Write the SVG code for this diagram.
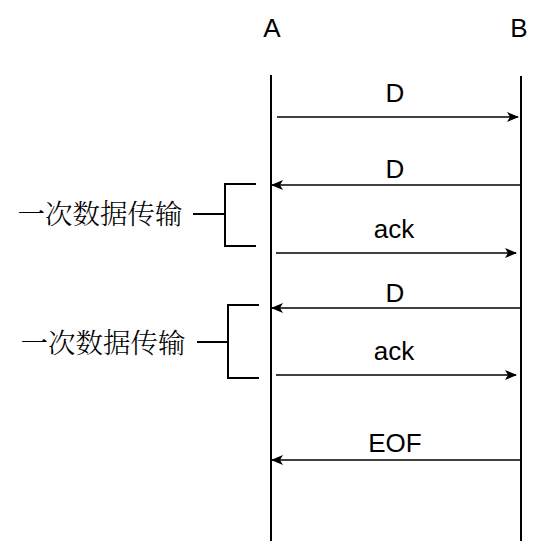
<svg xmlns="http://www.w3.org/2000/svg" width="546" height="553" viewBox="0 0 546 553">
<style>
.life{stroke:#000;stroke-width:2;fill:none}
.msg{stroke:#000;stroke-width:1.5;fill:none;marker-end:url(#ah)}
.br{stroke:#000;stroke-width:2;fill:none}
.lbl{font-family:"Liberation Sans",Arial,sans-serif;font-size:26px;fill:#000;text-anchor:middle}
.cn{font-family:"Noto Serif CJK SC","Noto Sans CJK SC",serif;font-size:27.5px;fill:#000;text-anchor:middle;font-weight:300}
</style>
<defs>
<marker id="ah" viewBox="0 0 12 10" refX="11" refY="5" markerWidth="12" markerHeight="10" markerUnits="userSpaceOnUse" orient="auto">
<path d="M0,0 L12,5 L0,10 L3,5 Z" fill="#000"/>
</marker>
</defs>
<rect width="546" height="553" fill="#fff"/>
<g id="A">
<text class="lbl" x="272" y="37">A</text>
<line class="life" x1="271" y1="75" x2="271" y2="541"/>
</g>
<g id="B">
<text class="lbl" x="519" y="37">B</text>
<line class="life" x1="521" y1="76" x2="521" y2="541"/>
</g>
<g id="connectors">
<line class="msg" x1="277" y1="117" x2="518" y2="117"/>
<text class="lbl" x="395" y="102">D</text>
<line class="msg" x1="521" y1="185" x2="272" y2="185"/>
<text class="lbl" x="395" y="178">D</text>
<line class="msg" x1="276" y1="253" x2="516" y2="253"/>
<text class="lbl" x="394" y="238">ack</text>
<line class="msg" x1="521" y1="308" x2="272" y2="308"/>
<text class="lbl" x="395" y="302">D</text>
<line class="msg" x1="276" y1="375" x2="516" y2="375"/>
<text class="lbl" x="394" y="360">ack</text>
<line class="msg" x1="521" y1="460" x2="272" y2="460"/>
<text class="lbl" x="395" y="452">EOF</text>
</g>
<g id="bracket1">
<path class="br" d="M256,184 H225 V246 H256 M193,214 H225"/>
<text class="cn" x="100" y="224">一次数据传输</text>
</g>
<g id="bracket2">
<path class="br" d="M259,305 H228 V378 H259 M197,342 H228"/>
<text class="cn" x="103" y="353">一次数据传输</text>
</g>
</svg>
